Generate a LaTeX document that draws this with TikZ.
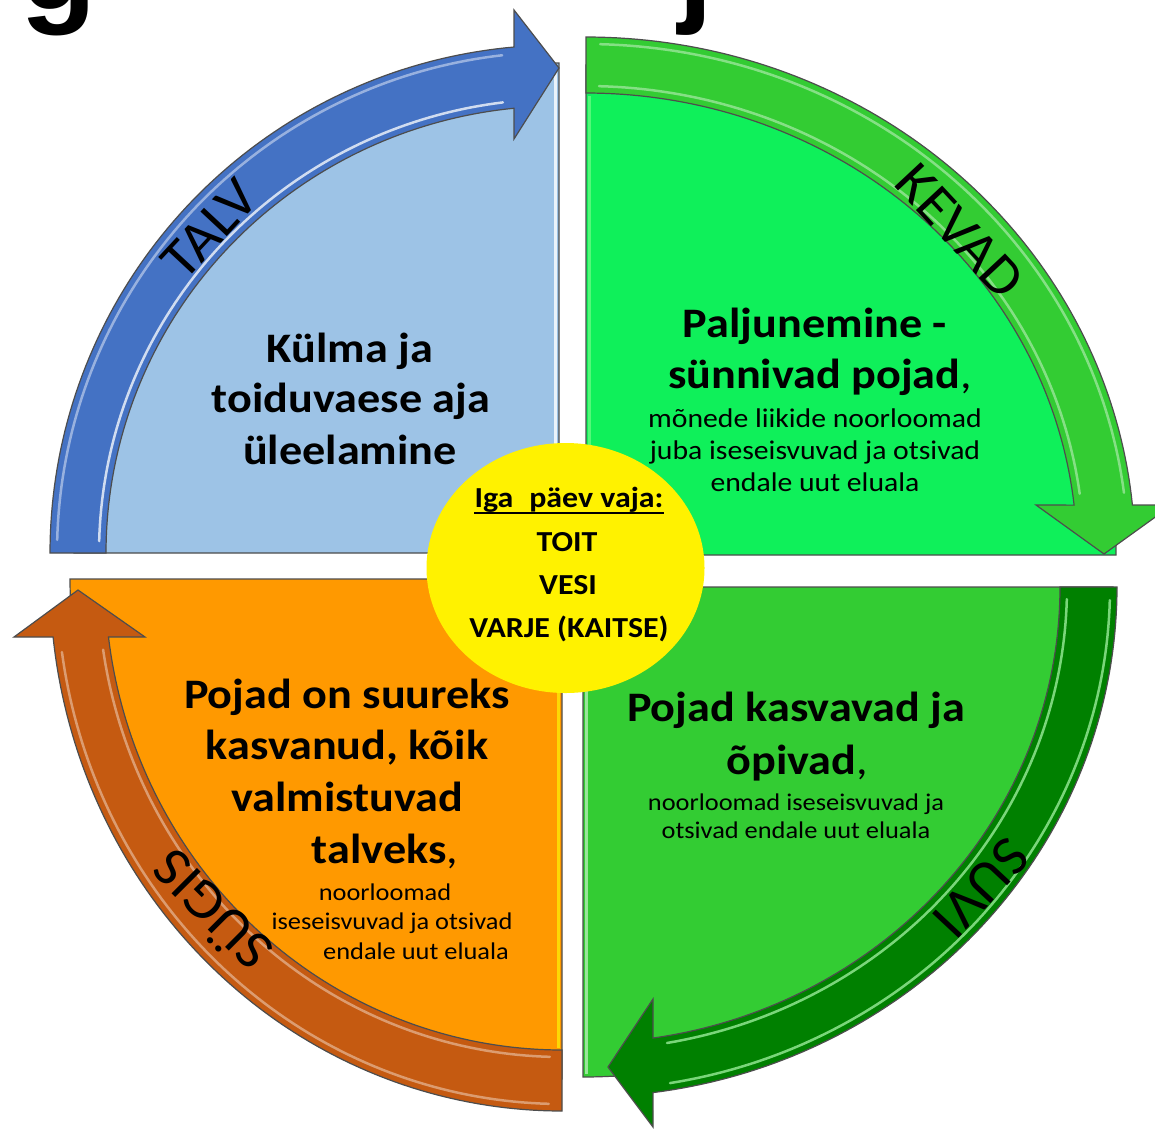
\documentclass[tikz,border=0pt]{standalone}
\usepackage{fontspec}
\setmainfont{Carlito}[FakeStretch=1.1]
\newfontfamily\seasonfont{Carlito}[FakeStretch=1.05]
\newfontfamily\titlefont{Liberation Sans}
\definecolor{tlsec}{HTML}{9DC3E6}
\definecolor{tlband}{HTML}{4472C4}
\definecolor{trsec}{HTML}{0FF05A}
\definecolor{trband}{HTML}{33CC33}
\definecolor{brsec}{HTML}{33CC33}
\definecolor{brband}{HTML}{008000}
\definecolor{blsec}{HTML}{FF9900}
\definecolor{blband}{HTML}{C55A11}
\definecolor{edgegray}{HTML}{4D4D4D}
\tikzset{
  sector/.style={draw=edgegray, line width=1.2pt, line join=miter},
  band/.style={draw=edgegray, line width=1.2pt, line join=miter},
  gloss/.style={line width=2.5pt, line cap=round},
  head/.style={font=\fontsize{42}{50}\selectfont\bfseries, inner sep=0pt, anchor=base},
  detail/.style={font=\fontsize{27}{32}\selectfont, inner sep=0pt, anchor=base},
  smalldetail/.style={font=\fontsize{24}{28}\selectfont, inner sep=0pt, anchor=base},
  hubtext/.style={font=\fontsize{29}{34}\selectfont\bfseries, inner sep=0pt, anchor=base},
  season/.style={font=\seasonfont\fontsize{56}{60}\selectfont, inner sep=0pt},
  titleglyph/.style={font=\titlefont\bfseries\fontsize{125}{125}\selectfont, inner sep=0pt, anchor=base west},
}
\begin{document}
\begin{tikzpicture}[x=1pt,y=-1pt]
\useasboundingbox (0,0) rectangle (1155,1128);
\fill[white] (0,0) rectangle (1155,1128);

% remnants of the cut-off title
\node[titleglyph] (tg) at (20,9) {g};
\node[titleglyph] (tj) at (678,9) {j};

% ---- sectors ----
\filldraw[sector, fill=tlsec] (559,553) -- plot[domain=180:90,samples=80] ({559+485*cos(\x)},{553-490*sin(\x)}) -- cycle;
\filldraw[sector, fill=trsec] (586,555) -- plot[domain=90:0,samples=80] ({586+530*cos(\x)},{555-490*sin(\x)}) -- cycle;
\filldraw[sector, fill=brsec] (583,587) -- plot[domain=0:-90,samples=80] ({583+530*cos(\x)},{587-490*sin(\x)}) -- cycle;
\filldraw[sector, fill=blsec] (562,579) -- plot[domain=-90:-180,samples=80] ({562+492*cos(\x)},{579-500*sin(\x)}) -- cycle;

% straight-edge highlights
\draw[line width=3pt, white!80!tlsec] (555.5,70) -- (555.5,550);
\draw[line width=3pt, green!30!trsec!70!white] (589.5,96) -- (589.5,552);
\draw[line width=3pt, brsec!50!white] (586.5,590) -- (586.5,1074);
\draw[line width=3pt, yellow!70!blsec] (558.5,582) -- (558.5,1048);

% ---- arrows ----
% TALV
\filldraw[band, fill=tlband] plot[domain=180:95.07,samples=80] ({559+509*cos(\x)},{553-508*sin(\x)})
  -- (514,10) -- (559,68) -- (514,139)
  -- plot[domain=95.7:180,samples=80] ({559+453*cos(\x)},{553-447*sin(\x)}) -- cycle;
\draw[gloss, tlband!55!white] plot[domain=178.5:96.5,samples=80] ({559+502*cos(\x)},{553-501*sin(\x)});
\draw[gloss, tlband!25!white] plot[domain=178.5:97,samples=80] ({559+460*cos(\x)},{553-454*sin(\x)});
% KEVAD
\filldraw[band, fill=trband] plot[domain=90:5.54,samples=80] ({586+549*cos(\x)},{555-518*sin(\x)})
  -- (1172,505) -- (1104,554) -- (1036,505)
  -- plot[domain=6.2:90,samples=80] ({586+491*cos(\x)},{555-462*sin(\x)}) -- cycle;
\draw[gloss, trband!60!white] plot[domain=88.5:7,samples=80] ({586+542*cos(\x)},{555-511*sin(\x)});
\draw[gloss, trband!60!white] plot[domain=88.5:7.5,samples=80] ({586+498*cos(\x)},{555-469*sin(\x)});
% SUVI
\filldraw[band, fill=brband] plot[domain=0:-82.47,samples=80] ({583+534*cos(\x)},{587-510*sin(\x)})
  -- (653,1127) -- (608,1067) -- (653,999)
  -- plot[domain=-81.56:0,samples=80] ({583+477*cos(\x)},{587-456*sin(\x)}) -- cycle;
\draw[gloss, brband!40!white!80!green] plot[domain=-1.5:-80.5,samples=80] ({583+527*cos(\x)},{587-503*sin(\x)});
\draw[gloss, brband!40!white!80!green] plot[domain=-1.5:-80,samples=80] ({583+484*cos(\x)},{587-463*sin(\x)});
% SUGIS
\filldraw[band, fill=blband] plot[domain=-90:-173.74,samples=80] ({562+512*cos(\x)},{579-532*sin(\x)})
  -- (14,637) -- (78,590) -- (145,637)
  -- plot[domain=-172.93:-90,samples=80] ({562+457*cos(\x)},{579-471*sin(\x)}) -- cycle;
\draw[gloss, blband!60!white] plot[domain=-91.5:-172,samples=80] ({562+505*cos(\x)},{579-525*sin(\x)});
\draw[gloss, blband!60!white] plot[domain=-91.5:-171.5,samples=80] ({562+464*cos(\x)},{579-478*sin(\x)});

% ---- centre ----
\fill[yellow] (565.5,568) ellipse [x radius=139pt, y radius=125pt];

% ---- season labels ----
\node[season, rotate=47] (talv) at (210,229) {TALV};
\node[season, rotate=-47] (kevad) at (960,231) {KEVAD};
\node[season, rotate=-133] (suvi) at (981,888) {SUVI};
\node[season, rotate=135] (sugis) at (210,912) {SÜGIS};

% ---- TL text ----
\node[head] (tl1) at (350,362) {Külma ja};
\node[head] (tl2) at (351,412) {toiduvaese aja};
\node[head] (tl3) at (350,464) {üleelamine};

% ---- TR text ----
\node[head] (tr1) at (815,337) {Paljunemine -};
\node[head] (tr2) at (820,388) {sünnivad pojad\textmd{,}};
\node[detail] (tr3) at (815,427) {mõnede liikide noorloomad};
\node[detail] (tr4) at (815,459) {juba iseseisvuvad ja otsivad};
\node[detail] (tr5) at (815,491) {endale uut eluala};

% ---- hub text ----
\node[hubtext] (c1) at (569,507) {Iga\hspace{0.3em} päev vaja:};
\draw[line width=2.2pt] ([yshift=-6pt]c1.base west) -- ([yshift=-6pt]c1.base east);
\node[hubtext] (c2) at (567,551) {TOIT};
\node[hubtext] (c3) at (568,594) {VESI};
\node[hubtext] (c4) at (569,637) {VARJE (KAITSE)};

% ---- BR text ----
\node[head] (br1) at (796,721) {Pojad kasvavad ja};
\node[head] (br2) at (797,774) {õpivad\textmd{,}};
\node[smalldetail] (br3) at (796,810) {noorloomad iseseisvuvad ja};
\node[smalldetail] (br4) at (796,838) {otsivad endale uut eluala};

% ---- BL text ----
\node[head] (bl1) at (347,708) {Pojad on suureks};
\node[head] (bl2) at (347,759) {kasvanud, kõik};
\node[head] (bl3) at (347,811) {valmistuvad};
\node[head] (bl4) at (385,863) {talveks\textmd{,}};
\node[smalldetail] (bl5) at (385,900) {noorloomad};
\node[smalldetail] (bl6) at (392,929) {iseseisvuvad ja otsivad};
\node[smalldetail] (bl7) at (416,959) {endale uut eluala};
\end{tikzpicture}
\end{document}
